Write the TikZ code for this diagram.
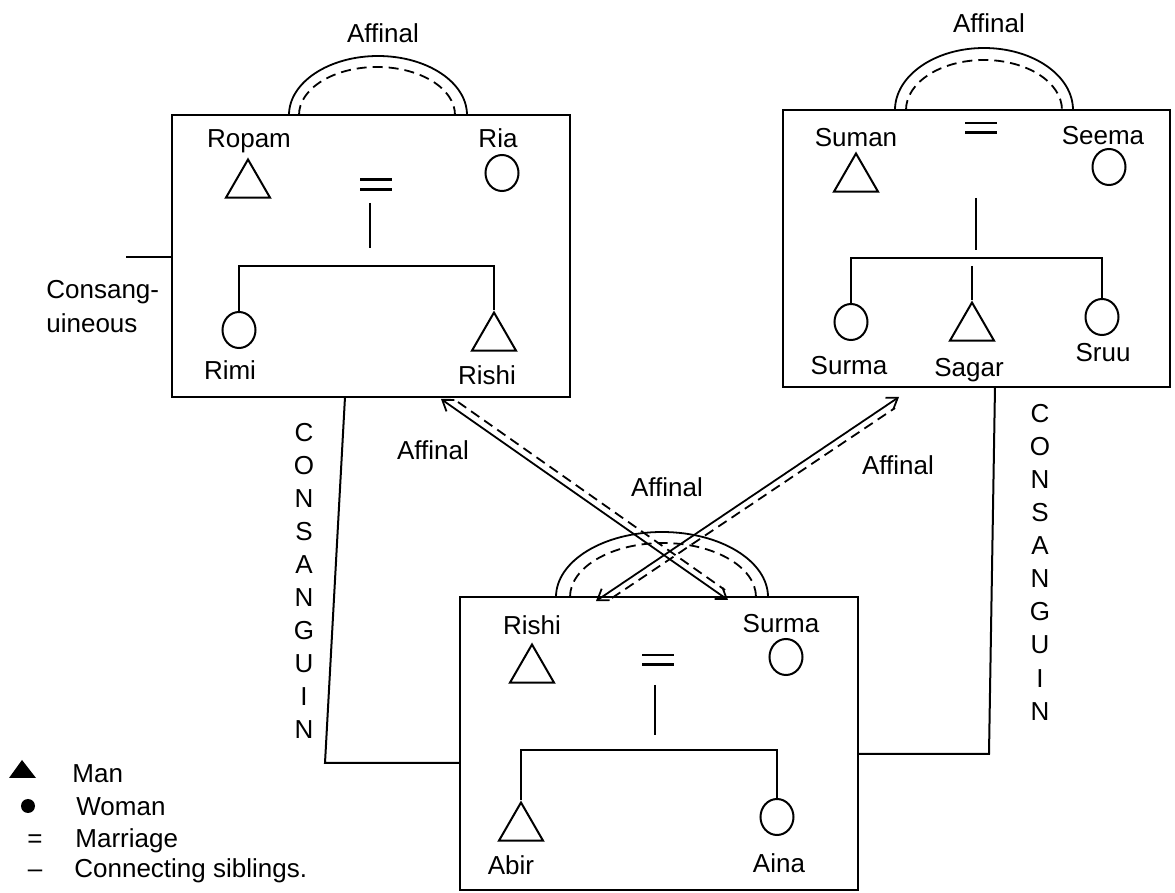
\documentclass[tikz,border=0pt]{standalone}
\usepackage{fontspec}
\setmainfont{Liberation Sans}
\usetikzlibrary{shapes.geometric,arrows.meta,calc}
\begin{document}
\begin{tikzpicture}[x=0.5pt,y=-0.5pt,
  box/.style={draw, line width=1pt, inner sep=0pt},
  man/.style={draw, regular polygon, regular polygon sides=3, minimum size=25.5pt, inner sep=0pt, line width=1pt},
  woman/.style={draw, ellipse, minimum width=16.5pt, minimum height=18pt, inner sep=0pt, line width=1pt},
  lbl/.style={font=\fontsize{13}{15}\selectfont, text height=9.3pt, text depth=0pt, inner sep=0pt},
  eqs/.style={minimum width=15.5pt, minimum height=4.5pt, inner sep=0pt},
  eqline/.style={line width=1.4pt},
  kin/.style={line width=1pt},
  aff/.style={line width=0.9pt},
  affd/.style={line width=0.9pt, dash pattern=on 5pt off 3pt},
  barb/.style={{Straight Barb[length=5pt,width=7pt]}-{Straight Barb[length=5pt,width=7pt]}},
  leg/.style={font=\fontsize{13}{15}\selectfont, text height=9.3pt, text depth=0pt, inner sep=0pt, anchor=west},
]
\useasboundingbox (0,0) rectangle (1175,893);

% ---------- boxes ----------
\node[box, minimum width=199pt, minimum height=141pt] (B1) at (371,256) {};
\node[box, minimum width=193.5pt, minimum height=138.5pt] (B2) at (976.5,248.5) {};
\node[box, minimum width=199pt, minimum height=146.5pt] (B3) at (659,743.5) {};

% ---------- box 1 ----------
\node[lbl] (lRopam) at (249,138) {Ropam};
\node[lbl] (lRia) at (498,138) {Ria};
\node[man] (Ropam) at (248,185) {};
\node[woman] (Ria) at (502,173) {};
\node[eqs] (eq1) at (376,184.5) {};
\draw[eqline] (eq1.north west) -- (eq1.north east) (eq1.south west) -- (eq1.south east);
\coordinate (p1a) at (370,203); \coordinate (p1b) at (370,248);
\draw[kin] (p1a) -- (p1b);
\node[woman] (Rimi) at (239,330) {};
\node[man] (Rishi1) at (494,338) {};
\coordinate (bar1) at (370,266);
\draw[kin] (Rimi.north) |- (bar1) -| (Rishi1.north);
\node[lbl] (lRimi) at (230,370) {Rimi};
\node[lbl] (lRishi1) at (487,375) {Rishi};

\coordinate (cL) at (126,257);
\draw[kin] (cL) -- (cL -| B1.west);
\node[lbl, anchor=west] (lCons1) at (46,289) {Consang-};
\node[lbl, anchor=west] (lCons2) at (46,323) {uineous};

% ---------- box 2 ----------
\node[lbl] (lSuman) at (856,137) {Suman};
\node[lbl] (lSeema) at (1103,135) {Seema};
\node[man] (Suman) at (856,179) {};
\node[woman] (Seema) at (1109,167) {};
\node[eqs] (eq2) at (981,128) {};
\draw[eqline] (eq2.north west) -- (eq2.north east) (eq2.south west) -- (eq2.south east);
\coordinate (p2a) at (976,198); \coordinate (p2b) at (976,250);
\draw[kin] (p2a) -- (p2b);
\coordinate (bar2) at (976,258);
\node[woman] (Surma2) at (851,322) {};
\node[man] (Sagar) at (972,328) {};
\node[woman] (Sruu) at (1102,317) {};
\draw[kin] (Surma2.north) |- (bar2) -| (Sruu.north);
\coordinate (s2) at (972,266);
\draw[kin] (s2) -- (Sagar.north);
\node[lbl] (lSurma2) at (849,365) {Surma};
\node[lbl] (lSagar) at (969,367) {Sagar};
\node[lbl] (lSruu) at (1103,352) {Sruu};

% ---------- box 3 ----------
\node[lbl] (lRishi3) at (532,625) {Rishi};
\node[lbl] (lSurma3) at (781,623) {Surma};
\node[man] (Rishi3) at (532,670) {};
\node[woman] (Surma3) at (786,657) {};
\node[eqs] (eq3) at (658,660) {};
\draw[eqline] (eq3.north west) -- (eq3.north east) (eq3.south west) -- (eq3.south east);
\coordinate (p3a) at (655,685); \coordinate (p3b) at (655,735);
\draw[kin] (p3a) -- (p3b);
\coordinate (bar3) at (655,750);
\node[man] (Abir) at (521,828) {};
\node[woman] (Aina) at (777,817) {};
\draw[kin] (Abir.north) |- (bar3) -| (Aina.north);
\node[lbl] (lAbir) at (511,865) {Abir};
\node[lbl] (lAina) at (779,863) {Aina};

% ---------- consanguineous links ----------
\coordinate (k1) at (345,397); \coordinate (k2) at (325,763);
\draw[kin] (k1) -- (k2) -- (k2 -| B3.west);
\coordinate (k3) at (995,387); \coordinate (k4) at (989,754);
\draw[kin] (k3) -- (k4) -- (k4 -| B3.east);
\foreach \ch [count=\i from 0] in {C,O,N,S,A,N,G,U,I,N} {
  \node[lbl] (cl\i) at (304,{432+33*\i}) {\ch};
  \node[lbl] (cr\i) at (1040,{413+33.1*\i}) {\ch};
}

% ---------- affinal arcs ----------
\coordinate (a1) at (289,115); \coordinate (a1i) at (299,115);
\draw[aff] (a1) arc[start angle=180, end angle=0, x radius=44.5pt, y radius=29.5pt];
\draw[affd] (a1i) arc[start angle=180, end angle=0, x radius=39pt, y radius=24pt];
\coordinate (a2) at (895,110); \coordinate (a2i) at (906,110);
\draw[aff] (a2) arc[start angle=180, end angle=0, x radius=44.5pt, y radius=31pt];
\draw[affd] (a2i) arc[start angle=180, end angle=0, x radius=39pt, y radius=25pt];
\coordinate (a3) at (556,597); \coordinate (a3i) at (570,597);
\draw[aff] (a3) arc[start angle=180, end angle=0, x radius=53pt, y radius=32.5pt];
\draw[affd] (a3i) arc[start angle=180, end angle=0, x radius=46.5pt, y radius=27pt];

% ---------- crossing affinal links ----------
\coordinate (d1a) at (441,399); \coordinate (d1b) at (728,600);
\draw[aff, barb] (d1a) -- (d1b);
\coordinate (d1c) at (458,402); \coordinate (d1d) at (725,590);
\draw[affd] (d1c) -- (d1d);
\coordinate (d2a) at (596,601); \coordinate (d2b) at (899,397);
\draw[aff, barb] (d2a) -- (d2b);
\coordinate (d2c) at (612,598); \coordinate (d2d) at (895,408);
\draw[affd] (d2c) -- (d2d);

\node[lbl] (af1) at (383,33) {Affinal};
\node[lbl] (af2) at (989,23) {Affinal};
\node[lbl] (af3) at (433,450) {Affinal};
\node[lbl] (af4) at (667,487) {Affinal};
\node[lbl] (af5) at (898,465) {Affinal};

% ---------- legend ----------
\fill (9,778) -- (22,760) -- (36,778) -- cycle;
\node[fill, circle, minimum size=7pt, inner sep=0pt] (lgW) at (28,806) {};
\node[leg, anchor=center] (lgEq) at (35,838) {=};
\node[leg, anchor=center] (lgDash) at (35,868) {--};
\node[leg] (lgMan) at (72,773) {Man};
\node[leg] (lgWoman) at (76,806) {Woman};
\node[leg] (lgMar) at (75,838) {Marriage};
\node[leg] (lgSib) at (74,868) {Connecting siblings.};
\end{tikzpicture}
\end{document}
